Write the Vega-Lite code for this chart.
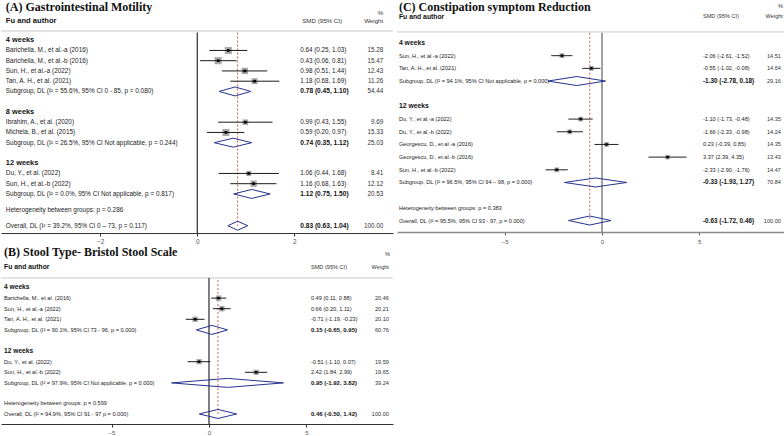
{
"$schema": "https://vega.github.io/schema/vega-lite/v6.json",
"padding": 0,
"background": "white",
"spacing": 2,
"config": {"view": {"stroke": null}, "font": "Liberation Sans", "axis": {"grid": false, "title": null}},
"datasets": {
"A": [
{"row":1,"kind":"group","label":"4 weeks"},
{"row":2,"kind":"study","label":"Barichella, M., et al.-a (2016)","es":0.64,"lo":0.25,"hi":1.03,"ci":"0.64 (0.25, 1.03)","w":15.28},
{"row":3,"kind":"study","label":"Barichella, M., et al.-b (2016)","es":0.43,"lo":0.06,"hi":0.81,"ci":"0.43 (0.06, 0.81)","w":15.47},
{"row":4,"kind":"study","label":"Sun, H., et al.-a (2022)","es":0.98,"lo":0.51,"hi":1.44,"ci":"0.98 (0.51, 1.44)","w":12.43},
{"row":5,"kind":"study","label":"Tan, A. H., et al. (2021)","es":1.18,"lo":0.68,"hi":1.69,"ci":"1.18 (0.68, 1.69)","w":11.26},
{"row":6,"kind":"subgroup","label":"Subgroup, DL (I² = 55.6%, 95% CI 0 - 85, p = 0.080)","es":0.78,"lo":0.45,"hi":1.10,"ci":"0.78 (0.45, 1.10)","w":54.44},
{"row":8,"kind":"group","label":"8 weeks"},
{"row":9,"kind":"study","label":"Ibrahim, A., et al. (2020)","es":0.99,"lo":0.43,"hi":1.55,"ci":"0.99 (0.43, 1.55)","w":9.69},
{"row":10,"kind":"study","label":"Michela, B., et al. (2015)","es":0.59,"lo":0.20,"hi":0.97,"ci":"0.59 (0.20, 0.97)","w":15.33},
{"row":11,"kind":"subgroup","label":"Subgroup, DL (I² = 26.5%, 95% CI Not applicable, p = 0.244)","es":0.74,"lo":0.35,"hi":1.12,"ci":"0.74 (0.35, 1.12)","w":25.03},
{"row":13,"kind":"group","label":"12 weeks"},
{"row":14,"kind":"study","label":"Du, Y., et al. (2022)","es":1.06,"lo":0.44,"hi":1.68,"ci":"1.06 (0.44, 1.68)","w":8.41},
{"row":15,"kind":"study","label":"Sun, H., et al.-b (2022)","es":1.16,"lo":0.68,"hi":1.63,"ci":"1.16 (0.68, 1.63)","w":12.12},
{"row":16,"kind":"subgroup","label":"Subgroup, DL (I² = 0.0%, 95% CI Not applicable, p = 0.817)","es":1.12,"lo":0.75,"hi":1.50,"ci":"1.12 (0.75, 1.50)","w":20.53},
{"row":17.6,"kind":"het","label":"Heterogeneity between groups: p = 0.286"},
{"row":19.1,"kind":"overall","label":"Overall, DL (I² = 39.2%, 95% CI 0 – 73, p = 0.117)","es":0.83,"lo":0.63,"hi":1.04,"ci":"0.83 (0.63, 1.04)","w":100.00}
],
"B": [
{"row":1,"kind":"group","label":"4 weeks"},
{"row":2,"kind":"study","label":"Barichella, M., et al. (2016)","es":0.49,"lo":0.11,"hi":0.88,"ci":"0.49 (0.11, 0.88)","w":20.46},
{"row":3,"kind":"study","label":"Sun, H., et al.-a (2022)","es":0.66,"lo":0.20,"hi":1.11,"ci":"0.66 (0.20, 1.11)","w":20.21},
{"row":4,"kind":"study","label":"Tan, A. H., et al. (2021)","es":-0.71,"lo":-1.19,"hi":-0.23,"ci":"-0.71 (-1.19, -0.23)","w":20.10},
{"row":5,"kind":"subgroup","label":"Subgroup, DL (I² = 90.1%, 95% CI 73 - 96, p = 0.000)","es":0.15,"lo":-0.65,"hi":0.95,"ci":"0.15 (-0.65, 0.95)","w":60.76},
{"row":7,"kind":"group","label":"12 weeks"},
{"row":8,"kind":"study","label":"Du, Y., et al. (2022)","es":-0.51,"lo":-1.10,"hi":0.07,"ci":"-0.51 (-1.10, 0.07)","w":19.59},
{"row":9,"kind":"study","label":"Sun, H., et al.-b (2022)","es":2.42,"lo":1.84,"hi":2.99,"ci":"2.42 (1.84, 2.99)","w":19.65},
{"row":10,"kind":"subgroup","label":"Subgroup, DL (I² = 97.9%, 95% CI Not applicable, p = 0.000)","es":0.95,"lo":-1.92,"hi":3.82,"ci":"0.95 (-1.92, 3.82)","w":39.24},
{"row":11.9,"kind":"het","label":"Heterogeneity between groups: p = 0.599"},
{"row":12.93,"kind":"overall","label":"Overall, DL (I² = 94.9%, 95% CI 91 - 97 p = 0.000)","es":0.46,"lo":-0.50,"hi":1.42,"ci":"0.46 (-0.50, 1.42)","w":100.00}
],
"C": [
{"row":1,"kind":"group","label":"4 weeks"},
{"row":2,"kind":"study","label":"Sun, H., et al.-a (2022)","es":-2.06,"lo":-2.61,"hi":-1.52,"ci":"-2.06 (-2.61, -1.52)","w":14.51},
{"row":3,"kind":"study","label":"Tan, A. H., et al. (2021)","es":-0.55,"lo":-1.02,"hi":-0.08,"ci":"-0.55 (-1.02, -0.08)","w":14.64},
{"row":4,"kind":"subgroup","label":"Subgroup, DL (I² = 94.1%, 95% CI Not applicable, p = 0.000)","es":-1.30,"lo":-2.78,"hi":0.18,"ci":"-1.30 (-2.78, 0.18)","w":29.16},
{"row":6,"kind":"group","label":"12 weeks"},
{"row":7,"kind":"study","label":"Du, Y., et al.-a (2022)","es":-1.10,"lo":-1.73,"hi":-0.48,"ci":"-1.10 (-1.73, -0.48)","w":14.35},
{"row":8,"kind":"study","label":"Du, Y., et al.-b (2022)","es":-1.66,"lo":-2.33,"hi":-0.98,"ci":"-1.66 (-2.33, -0.98)","w":14.24},
{"row":9,"kind":"study","label":"Georgescu, D., et al.-a (2016)","es":0.23,"lo":-0.39,"hi":0.85,"ci":"0.23 (-0.39, 0.85)","w":14.35},
{"row":10,"kind":"study","label":"Georgescu, D., et al.-b (2016)","es":3.37,"lo":2.39,"hi":4.35,"ci":"3.37 (2.39, 4.35)","w":13.43},
{"row":11,"kind":"study","label":"Sun, H., et al.-b (2022)","es":-2.33,"lo":-2.90,"hi":-1.76,"ci":"-2.33 (-2.90, -1.76)","w":14.47},
{"row":12,"kind":"subgroup","label":"Subgroup, DL (I² = 96.5%, 95% CI 94 – 98, p = 0.000)","es":-0.33,"lo":-1.93,"hi":1.27,"ci":"-0.33 (-1.93, 1.27)","w":70.84},
{"row":14,"kind":"het","label":"Heterogeneity between groups: p = 0.383"},
{"row":15,"kind":"overall","label":"Overall, DL (I² = 95.5%, 95% CI 93 - 97, p = 0.000)","es":-0.63,"lo":-1.72,"hi":0.46,"ci":"-0.63 (-1.72, 0.46)","w":100.00}
]
},
"hconcat": [
{
"spacing": 0,
"resolve": {"scale": {"x": "independent", "y": "independent", "size": "independent"}},
"vconcat": [
{
"width": 392, "height": 232,
"data": {"name": "A"},
"encoding": {
"x": {"field": "es", "type": "quantitative", "scale": {"domain": [-4.04, 4.03], "nice": false, "zero": false}, "axis": {"values": [-2, 0, 2], "domainColor": "#333", "tickColor": "#333", "tickSize": 3, "labelFontSize": 6.5, "labelColor": "#555", "labelPadding": 2}},
"y": {"field": "row", "type": "quantitative", "scale": {"domain": [-2.824, 19.81], "reverse": true, "nice": false, "zero": false}, "axis": null}
},
"layer": [
{"mark": {"type": "rule", "color": "#c8c8c8", "strokeWidth": 1}, "transform": [{"filter": "datum.kind == 'overall'"}], "encoding": {"x": {"datum": -4.04}, "x2": {"datum": 4.03}, "y": {"datum": 0.1}}},
{"mark": {"type": "rule", "color": "#000", "strokeWidth": 1}, "transform": [{"filter": "datum.kind == 'overall'"}], "encoding": {"x": {"datum": 0}, "y": {"datum": 0.25}, "y2": {"datum": 19.81}}},
{"mark": {"type": "rule", "color": "#c0392b", "strokeWidth": 0.8, "strokeDash": [2, 2]}, "transform": [{"filter": "datum.kind == 'overall'"}], "encoding": {"y": {"datum": 0.25}, "y2": {"field": "row"}}},
{"mark": {"type": "point", "shape": "square", "filled": true, "color": "#a8a8a8", "opacity": 1}, "transform": [{"filter": "datum.kind == 'study'"}], "encoding": {"size": {"field": "w", "type": "quantitative", "scale": {"domain": [0, 16], "range": [0, 52]}, "legend": null}}},
{"mark": {"type": "rule", "color": "#000", "strokeWidth": 0.9}, "transform": [{"filter": "datum.kind == 'study'"}], "encoding": {"x": {"field": "lo", "type": "quantitative"}, "x2": {"field": "hi"}}},
{"mark": {"type": "point", "shape": "square", "filled": true, "color": "#000", "size": 7, "opacity": 1}, "transform": [{"filter": "datum.kind == 'study'"}]},
{"mark": {"type": "rule", "color": "#27338f", "strokeWidth": 1, "y2Offset": -4.5}, "transform": [{"filter": "datum.kind == 'subgroup' || datum.kind == 'overall'"}], "encoding": {"x": {"field": "lo", "type": "quantitative"}, "x2": {"field": "es"}, "y2": {"field": "row"}}},
{"mark": {"type": "rule", "color": "#27338f", "strokeWidth": 1, "y2Offset": 4.5}, "transform": [{"filter": "datum.kind == 'subgroup' || datum.kind == 'overall'"}], "encoding": {"x": {"field": "lo", "type": "quantitative"}, "x2": {"field": "es"}, "y2": {"field": "row"}}},
{"mark": {"type": "rule", "color": "#27338f", "strokeWidth": 1, "yOffset": -4.5}, "transform": [{"filter": "datum.kind == 'subgroup' || datum.kind == 'overall'"}], "encoding": {"x": {"field": "es", "type": "quantitative"}, "x2": {"field": "hi"}, "y2": {"field": "row"}}},
{"mark": {"type": "rule", "color": "#27338f", "strokeWidth": 1, "yOffset": 4.5}, "transform": [{"filter": "datum.kind == 'subgroup' || datum.kind == 'overall'"}], "encoding": {"x": {"field": "es", "type": "quantitative"}, "x2": {"field": "hi"}, "y2": {"field": "row"}}},
{"mark": {"type": "text", "align": "left", "baseline": "middle", "fontSize": 6.4, "color": "#222"}, "transform": [{"filter": "datum.kind != 'group'"}], "encoding": {"x": {"datum": -3.94, "field": "row"}, "text": {"field": "label"}}},
{"mark": {"type": "text", "align": "left", "baseline": "middle", "fontSize": 7.4, "fontWeight": "bold", "color": "#111"}, "transform": [{"filter": "datum.kind == 'group'"}], "encoding": {"x": {"datum": -3.94, "field": "row"}, "text": {"field": "label"}}},
{"mark": {"type": "text", "align": "left", "baseline": "middle", "fontSize": 6.3, "color": "#222"}, "transform": [{"filter": "datum.kind == 'study'"}], "encoding": {"x": {"datum": 2.12}, "text": {"field": "ci"}}},
{"mark": {"type": "text", "align": "left", "baseline": "middle", "fontSize": 6.6, "fontWeight": "bold", "color": "#111"}, "transform": [{"filter": "datum.kind == 'subgroup' || datum.kind == 'overall'"}], "encoding": {"x": {"datum": 2.12}, "text": {"field": "ci"}}},
{"mark": {"type": "text", "align": "right", "baseline": "middle", "fontSize": 6.3, "color": "#333"}, "transform": [{"filter": "isValid(datum.w)"}], "encoding": {"x": {"datum": 3.83}, "text": {"field": "w", "type": "quantitative", "format": ".2f"}}},
{"mark": {"type": "text", "align": "left", "baseline": "middle", "fontSize": 12, "fontWeight": "bold", "font": "Liberation Serif", "color": "#111"}, "transform": [{"filter": "datum.kind == 'overall'"}], "encoding": {"x": {"datum": -3.94}, "y": {"datum": -2.2}, "text": {"value": "(A) Gastrointestinal Motility"}}},
{"mark": {"type": "text", "align": "left", "baseline": "middle", "fontSize": 7.6, "fontWeight": "bold", "color": "#111"}, "transform": [{"filter": "datum.kind == 'overall'"}], "encoding": {"x": {"datum": -3.94}, "y": {"datum": -0.87}, "text": {"value": "Fu and author"}}},
{"mark": {"type": "text", "align": "left", "baseline": "middle", "fontSize": 6.2, "color": "#333"}, "transform": [{"filter": "datum.kind == 'overall'"}], "encoding": {"x": {"datum": 2.16}, "y": {"datum": -0.87}, "text": {"value": "SMD (95% CI)"}}},
{"mark": {"type": "text", "align": "right", "baseline": "middle", "fontSize": 6.2, "color": "#333"}, "transform": [{"filter": "datum.kind == 'overall'"}], "encoding": {"x": {"datum": 3.83}, "y": {"datum": -0.87}, "text": {"value": "Weight"}}},
{"mark": {"type": "text", "align": "right", "baseline": "middle", "fontSize": 6.2, "color": "#333"}, "transform": [{"filter": "datum.kind == 'overall'"}], "encoding": {"x": {"datum": 3.83}, "y": {"datum": -1.62}, "text": {"value": "%"}}}
]
},
{
"width": 392, "height": 179,
"data": {"name": "B"},
"encoding": {
"x": {"field": "es", "type": "quantitative", "scale": {"domain": [-10.67, 9.44], "nice": false, "zero": false}, "axis": {"values": [-5, 0, 5], "domainColor": "#333", "tickColor": "#333", "tickSize": 3, "labelFontSize": 6, "labelColor": "#555", "labelPadding": 2}},
"y": {"field": "row", "type": "quantitative", "scale": {"domain": [-3.009, 13.877], "reverse": true, "nice": false, "zero": false}, "axis": null}
},
"layer": [
{"mark": {"type": "rule", "color": "#c8c8c8", "strokeWidth": 1}, "transform": [{"filter": "datum.kind == 'overall'"}], "encoding": {"x": {"datum": -10.67}, "x2": {"datum": 9.44}, "y": {"datum": 0.1}}},
{"mark": {"type": "rule", "color": "#000", "strokeWidth": 1}, "transform": [{"filter": "datum.kind == 'overall'"}], "encoding": {"x": {"datum": 0}, "y": {"datum": 0.1}, "y2": {"datum": 13.877}}},
{"mark": {"type": "rule", "color": "#c0392b", "strokeWidth": 0.8, "strokeDash": [2, 2]}, "transform": [{"filter": "datum.kind == 'overall'"}], "encoding": {"y": {"datum": 0.3}, "y2": {"field": "row"}}},
{"mark": {"type": "point", "shape": "square", "filled": true, "color": "#a8a8a8", "opacity": 1}, "transform": [{"filter": "datum.kind == 'study'"}], "encoding": {"size": {"field": "w", "type": "quantitative", "scale": {"domain": [0, 21], "range": [0, 30]}, "legend": null}}},
{"mark": {"type": "rule", "color": "#000", "strokeWidth": 0.9}, "transform": [{"filter": "datum.kind == 'study'"}], "encoding": {"x": {"field": "lo", "type": "quantitative"}, "x2": {"field": "hi"}}},
{"mark": {"type": "point", "shape": "square", "filled": true, "color": "#000", "size": 6, "opacity": 1}, "transform": [{"filter": "datum.kind == 'study'"}]},
{"mark": {"type": "rule", "color": "#27338f", "strokeWidth": 1, "y2Offset": -4.5}, "transform": [{"filter": "datum.kind == 'subgroup' || datum.kind == 'overall'"}], "encoding": {"x": {"field": "lo", "type": "quantitative"}, "x2": {"field": "es"}, "y2": {"field": "row"}}},
{"mark": {"type": "rule", "color": "#27338f", "strokeWidth": 1, "y2Offset": 4.5}, "transform": [{"filter": "datum.kind == 'subgroup' || datum.kind == 'overall'"}], "encoding": {"x": {"field": "lo", "type": "quantitative"}, "x2": {"field": "es"}, "y2": {"field": "row"}}},
{"mark": {"type": "rule", "color": "#27338f", "strokeWidth": 1, "yOffset": -4.5}, "transform": [{"filter": "datum.kind == 'subgroup' || datum.kind == 'overall'"}], "encoding": {"x": {"field": "es", "type": "quantitative"}, "x2": {"field": "hi"}, "y2": {"field": "row"}}},
{"mark": {"type": "rule", "color": "#27338f", "strokeWidth": 1, "yOffset": 4.5}, "transform": [{"filter": "datum.kind == 'subgroup' || datum.kind == 'overall'"}], "encoding": {"x": {"field": "es", "type": "quantitative"}, "x2": {"field": "hi"}, "y2": {"field": "row"}}},
{"mark": {"type": "text", "align": "left", "baseline": "middle", "fontSize": 5.6, "color": "#222"}, "transform": [{"filter": "datum.kind != 'group'"}], "encoding": {"x": {"datum": -10.51, "field": "row"}, "text": {"field": "label"}}},
{"mark": {"type": "text", "align": "left", "baseline": "middle", "fontSize": 6.6, "fontWeight": "bold", "color": "#111"}, "transform": [{"filter": "datum.kind == 'group'"}], "encoding": {"x": {"datum": -10.51, "field": "row"}, "text": {"field": "label"}}},
{"mark": {"type": "text", "align": "left", "baseline": "middle", "fontSize": 5.6, "color": "#222"}, "transform": [{"filter": "datum.kind == 'study'"}], "encoding": {"x": {"datum": 5.23}, "text": {"field": "ci"}}},
{"mark": {"type": "text", "align": "left", "baseline": "middle", "fontSize": 6, "fontWeight": "bold", "color": "#111"}, "transform": [{"filter": "datum.kind == 'subgroup' || datum.kind == 'overall'"}], "encoding": {"x": {"datum": 5.23}, "text": {"field": "ci"}}},
{"mark": {"type": "text", "align": "right", "baseline": "middle", "fontSize": 5.6, "color": "#333"}, "transform": [{"filter": "isValid(datum.w)"}], "encoding": {"x": {"datum": 9.23}, "text": {"field": "w", "type": "quantitative", "format": ".2f"}}},
{"mark": {"type": "text", "align": "left", "baseline": "middle", "fontSize": 12, "fontWeight": "bold", "font": "Liberation Serif", "color": "#111"}, "transform": [{"filter": "datum.kind == 'overall'"}], "encoding": {"x": {"datum": -10.51}, "y": {"datum": -2.35}, "text": {"value": "(B) Stool Type- Bristol Stool Scale"}}},
{"mark": {"type": "text", "align": "left", "baseline": "middle", "fontSize": 6.8, "fontWeight": "bold", "color": "#111"}, "transform": [{"filter": "datum.kind == 'overall'"}], "encoding": {"x": {"datum": -10.51}, "y": {"datum": -0.96}, "text": {"value": "Fu and author"}}},
{"mark": {"type": "text", "align": "left", "baseline": "middle", "fontSize": 5.6, "color": "#333"}, "transform": [{"filter": "datum.kind == 'overall'"}], "encoding": {"x": {"datum": 5.23}, "y": {"datum": -0.96}, "text": {"value": "SMD (95% CI)"}}},
{"mark": {"type": "text", "align": "right", "baseline": "middle", "fontSize": 5.6, "color": "#333"}, "transform": [{"filter": "datum.kind == 'overall'"}], "encoding": {"x": {"datum": 9.23}, "y": {"datum": -0.96}, "text": {"value": "Weight"}}},
{"mark": {"type": "text", "align": "right", "baseline": "middle", "fontSize": 5.6, "color": "#333"}, "transform": [{"filter": "datum.kind == 'overall'"}], "encoding": {"x": {"datum": 9.28}, "y": {"datum": -2.16}, "text": {"value": "%"}}}
]
}
]
},
{
"width": 390, "height": 231,
"data": {"name": "C"},
"encoding": {
"x": {"field": "es", "type": "quantitative", "scale": {"domain": [-10.54, 9.51], "nice": false, "zero": false}, "axis": {"values": [-5, 0, 5], "domainColor": "#8a8a8a", "domainWidth": 1.5, "tickColor": "#666", "tickSize": 3, "labelFontSize": 6, "labelColor": "#555", "labelPadding": 3}},
"y": {"field": "row", "type": "quantitative", "scale": {"domain": [-2.312, 15.905], "reverse": true, "nice": false, "zero": false}, "axis": null}
},
"layer": [
{"mark": {"type": "rule", "color": "#c8c8c8", "strokeWidth": 1}, "transform": [{"filter": "datum.kind == 'overall'"}], "encoding": {"x": {"datum": -10.54}, "x2": {"datum": 9.51}, "y": {"datum": 0.13}}},
{"mark": {"type": "rule", "color": "#8a8a8a", "strokeWidth": 1.6}, "transform": [{"filter": "datum.kind == 'overall'"}], "encoding": {"x": {"datum": 0}, "y": {"datum": 0.19}, "y2": {"datum": 15.905}}},
{"mark": {"type": "rule", "color": "#c0392b", "strokeWidth": 0.8, "strokeDash": [2, 2]}, "transform": [{"filter": "datum.kind == 'overall'"}], "encoding": {"y": {"datum": 0.19}, "y2": {"field": "row"}}},
{"mark": {"type": "point", "shape": "square", "filled": true, "color": "#a8a8a8", "opacity": 1}, "transform": [{"filter": "datum.kind == 'study'"}], "encoding": {"size": {"field": "w", "type": "quantitative", "scale": {"domain": [0, 15], "range": [0, 24]}, "legend": null}}},
{"mark": {"type": "rule", "color": "#222", "strokeWidth": 1}, "transform": [{"filter": "datum.kind == 'study'"}], "encoding": {"x": {"field": "lo", "type": "quantitative"}, "x2": {"field": "hi"}}},
{"mark": {"type": "point", "shape": "square", "filled": true, "color": "#000", "size": 6, "opacity": 1}, "transform": [{"filter": "datum.kind == 'study'"}]},
{"mark": {"type": "rule", "color": "#27338f", "strokeWidth": 1, "y2Offset": -4.5}, "transform": [{"filter": "datum.kind == 'subgroup' || datum.kind == 'overall'"}], "encoding": {"x": {"field": "lo", "type": "quantitative"}, "x2": {"field": "es"}, "y2": {"field": "row"}}},
{"mark": {"type": "rule", "color": "#27338f", "strokeWidth": 1, "y2Offset": 4.5}, "transform": [{"filter": "datum.kind == 'subgroup' || datum.kind == 'overall'"}], "encoding": {"x": {"field": "lo", "type": "quantitative"}, "x2": {"field": "es"}, "y2": {"field": "row"}}},
{"mark": {"type": "rule", "color": "#27338f", "strokeWidth": 1, "yOffset": -4.5}, "transform": [{"filter": "datum.kind == 'subgroup' || datum.kind == 'overall'"}], "encoding": {"x": {"field": "es", "type": "quantitative"}, "x2": {"field": "hi"}, "y2": {"field": "row"}}},
{"mark": {"type": "rule", "color": "#27338f", "strokeWidth": 1, "yOffset": 4.5}, "transform": [{"filter": "datum.kind == 'subgroup' || datum.kind == 'overall'"}], "encoding": {"x": {"field": "es", "type": "quantitative"}, "x2": {"field": "hi"}, "y2": {"field": "row"}}},
{"mark": {"type": "text", "align": "left", "baseline": "middle", "fontSize": 5.6, "color": "#222"}, "transform": [{"filter": "datum.kind != 'group'"}], "encoding": {"x": {"datum": -10.44, "field": "row"}, "text": {"field": "label"}}},
{"mark": {"type": "text", "align": "left", "baseline": "middle", "fontSize": 6.8, "fontWeight": "bold", "color": "#111"}, "transform": [{"filter": "datum.kind == 'group'"}], "encoding": {"x": {"datum": -10.44, "field": "row"}, "text": {"field": "label"}}},
{"mark": {"type": "text", "align": "left", "baseline": "middle", "fontSize": 5.6, "color": "#222"}, "transform": [{"filter": "datum.kind == 'study'"}], "encoding": {"x": {"datum": 5.19}, "text": {"field": "ci"}}},
{"mark": {"type": "text", "align": "left", "baseline": "middle", "fontSize": 6.4, "fontWeight": "bold", "color": "#111"}, "transform": [{"filter": "datum.kind == 'subgroup' || datum.kind == 'overall'"}], "encoding": {"x": {"datum": 5.19}, "text": {"field": "ci"}}},
{"mark": {"type": "text", "align": "right", "baseline": "middle", "fontSize": 5.6, "color": "#333"}, "transform": [{"filter": "isValid(datum.w)"}], "encoding": {"x": {"datum": 9.2}, "text": {"field": "w", "type": "quantitative", "format": ".2f"}}},
{"mark": {"type": "text", "align": "left", "baseline": "middle", "fontSize": 12, "fontWeight": "bold", "font": "Liberation Serif", "color": "#111"}, "transform": [{"filter": "datum.kind == 'overall'"}], "encoding": {"x": {"datum": -10.44}, "y": {"datum": -1.85}, "text": {"value": "(C) Constipation symptom Reduction"}}},
{"mark": {"type": "text", "align": "left", "baseline": "middle", "fontSize": 6.8, "fontWeight": "bold", "color": "#111"}, "transform": [{"filter": "datum.kind == 'overall'"}], "encoding": {"x": {"datum": -10.44}, "y": {"datum": -1.05}, "text": {"value": "Fu and author"}}},
{"mark": {"type": "text", "align": "left", "baseline": "middle", "fontSize": 5.6, "color": "#333"}, "transform": [{"filter": "datum.kind == 'overall'"}], "encoding": {"x": {"datum": 5.19}, "y": {"datum": -1.1}, "text": {"value": "SMD (95% CI)"}}},
{"mark": {"type": "text", "align": "right", "baseline": "middle", "fontSize": 5.6, "color": "#333"}, "transform": [{"filter": "datum.kind == 'overall'"}], "encoding": {"x": {"datum": 9.3}, "y": {"datum": -1.1}, "text": {"value": "Weight"}}},
{"mark": {"type": "text", "align": "right", "baseline": "middle", "fontSize": 5.6, "color": "#333"}, "transform": [{"filter": "datum.kind == 'overall'"}], "encoding": {"x": {"datum": 9.3}, "y": {"datum": -1.92}, "text": {"value": "%"}}}
]
}
],
"resolve": {"scale": {"x": "independent", "y": "independent", "size": "independent"}}
}
